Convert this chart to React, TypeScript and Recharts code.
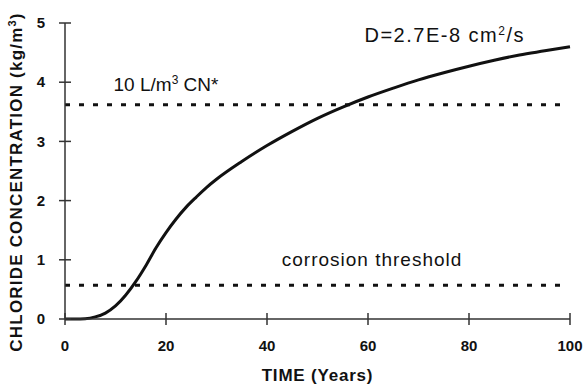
import { Line, LineChart, ReferenceDot, ReferenceLine, XAxis, YAxis } from "recharts";

const years = [0, 2, 4, 6, 8, 10, 12, 14, 16, 18, 20, 22, 24, 26, 28, 30, 35, 40, 45, 50, 55, 60, 65, 70, 75, 80, 85, 90, 95, 100];
const chloride = [0, 0, 0.005, 0.035, 0.1, 0.22, 0.4, 0.63, 0.9, 1.2, 1.46, 1.69, 1.89, 2.06, 2.22, 2.36, 2.66, 2.93, 3.17, 3.39, 3.58, 3.75, 3.9, 4.04, 4.16, 4.27, 4.37, 4.46, 4.53, 4.6];

const xTicks = [0, 20, 40, 60, 80, 100];
const yTicks = [0, 1, 2, 3, 4, 5];

const cnLevel = 3.62;
const threshold = 0.57;
const lineEnd = 99;

const data = years.map((t, i) => ({ t, c: chloride[i] }));

const FONT = "'Liberation Sans', Arial, sans-serif";
const INK = "#111";

function YTick({ x, y, payload }: any) {
  const ax = x + 20;
  return (
    <g>
      <line x1={ax - 6} x2={ax + 6} y1={y} y2={y} stroke="#333" strokeWidth={1.5} />
      <text x={x} y={y} dy="0.35em" textAnchor="end" fontFamily={FONT} fontSize={15} fontWeight="bold" fill={INK}>
        {payload.value}
      </text>
    </g>
  );
}

function XTick({ x, y, payload }: any) {
  const ay = y - 21;
  return (
    <g>
      <line x1={x} x2={x} y1={ay - 6} y2={ay + 6} stroke="#333" strokeWidth={1.5} />
      <text x={x} y={y} dy="0.71em" textAnchor="middle" fontFamily={FONT} fontSize={15} fontWeight="bold" fill={INK}>
        {payload.value}
      </text>
    </g>
  );
}

function Note({ cx, cy, parts, size = 19, spacing = 0 }: any) {
  return (
    <text
      x={cx}
      y={cy}
      dy="0.35em"
      textAnchor="middle"
      fontFamily={FONT}
      fontSize={size}
      letterSpacing={spacing}
      fill={INK}
    >
      {parts.map((p: any, i: number) =>
        p.sup ? (
          <tspan key={i} fontSize={12} dy={-7}>
            {p.text}
          </tspan>
        ) : (
          <tspan key={i} dy={i > 0 && parts[i - 1].sup ? 7 : 0}>
            {p.text}
          </tspan>
        )
      )}
    </text>
  );
}

export default function App() {
  return (
    <div style={{ position: "absolute", left: 0, top: 0, background: "#fff" }}>
      <LineChart width={587} height={391} data={data} margin={{ top: 23, right: 17, left: 20, bottom: 22 }}>
        <XAxis
          dataKey="t"
          type="number"
          domain={[0, 100]}
          ticks={xTicks}
          tickSize={0}
          tickMargin={21}
          tick={<XTick />}
          height={50}
          axisLine={{ stroke: "#333", strokeWidth: 1.5 }}
          label={{
            content: ({ viewBox }: any) => (
              <text
                x={viewBox.x + viewBox.width / 2}
                y={viewBox.y + 62}
                textAnchor="middle"
                fontFamily={FONT}
                fontSize={17}
                letterSpacing={0.8}
                fontWeight="bold"
                fill={INK}
              >
                TIME (Years)
              </text>
            ),
          }}
        />
        <YAxis
          type="number"
          domain={[0, 5]}
          ticks={yTicks}
          tickSize={0}
          tickMargin={20}
          tick={<YTick />}
          width={45}
          axisLine={{ stroke: "#333", strokeWidth: 1.5 }}
          label={{
            content: ({ viewBox }: any) => {
              const cx = viewBox.x - 4;
              const cy = viewBox.y + viewBox.height / 2 + 11;
              return (
                <text
                  x={cx}
                  y={cy}
                  dy="0.35em"
                  transform={`rotate(-90 ${cx} ${cy})`}
                  textAnchor="middle"
                  fontFamily={FONT}
                  fontSize={17}
                  letterSpacing={1.2}
                  fontWeight="bold"
                  fill={INK}
                >
                  CHLORIDE CONCENTRATION (kg/m
                  <tspan fontSize={11} dy={-6}>3</tspan>
                  <tspan dy={6}>)</tspan>
                </text>
              );
            },
          }}
        />
        <ReferenceLine
          segment={[{ x: 0, y: cnLevel }, { x: lineEnd, y: cnLevel }]}
          stroke={INK}
          strokeWidth={3}
          strokeDasharray="5 9"
        />
        <ReferenceLine
          segment={[{ x: 0, y: threshold }, { x: lineEnd, y: threshold }]}
          stroke={INK}
          strokeWidth={3}
          strokeDasharray="5 9"
        />
        <Line
          type="monotone"
          dataKey="c"
          stroke={INK}
          strokeWidth={3}
          dot={false}
          isAnimationActive={false}
        />
        <ReferenceDot
          x={75.2}
          y={4.68}
          shape={(p: any) => (
            <Note
              cx={p.cx}
              cy={p.cy}
              size={20}
              spacing={1.5}
              parts={[{ text: "D=2.7E-8 cm" }, { text: "2", sup: true }, { text: "/s" }]}
            />
          )}
        />
        <ReferenceDot
          x={20}
          y={3.85}
          shape={(p: any) => (
            <Note cx={p.cx} cy={p.cy} parts={[{ text: "10 L/m" }, { text: "3", sup: true }, { text: " CN*" }]} />
          )}
        />
        <ReferenceDot
          x={60.8}
          y={0.9}
          shape={(p: any) => (
            <Note cx={p.cx} cy={p.cy} spacing={1} parts={[{ text: "corrosion threshold" }]} />
          )}
        />
      </LineChart>
    </div>
  );
}
